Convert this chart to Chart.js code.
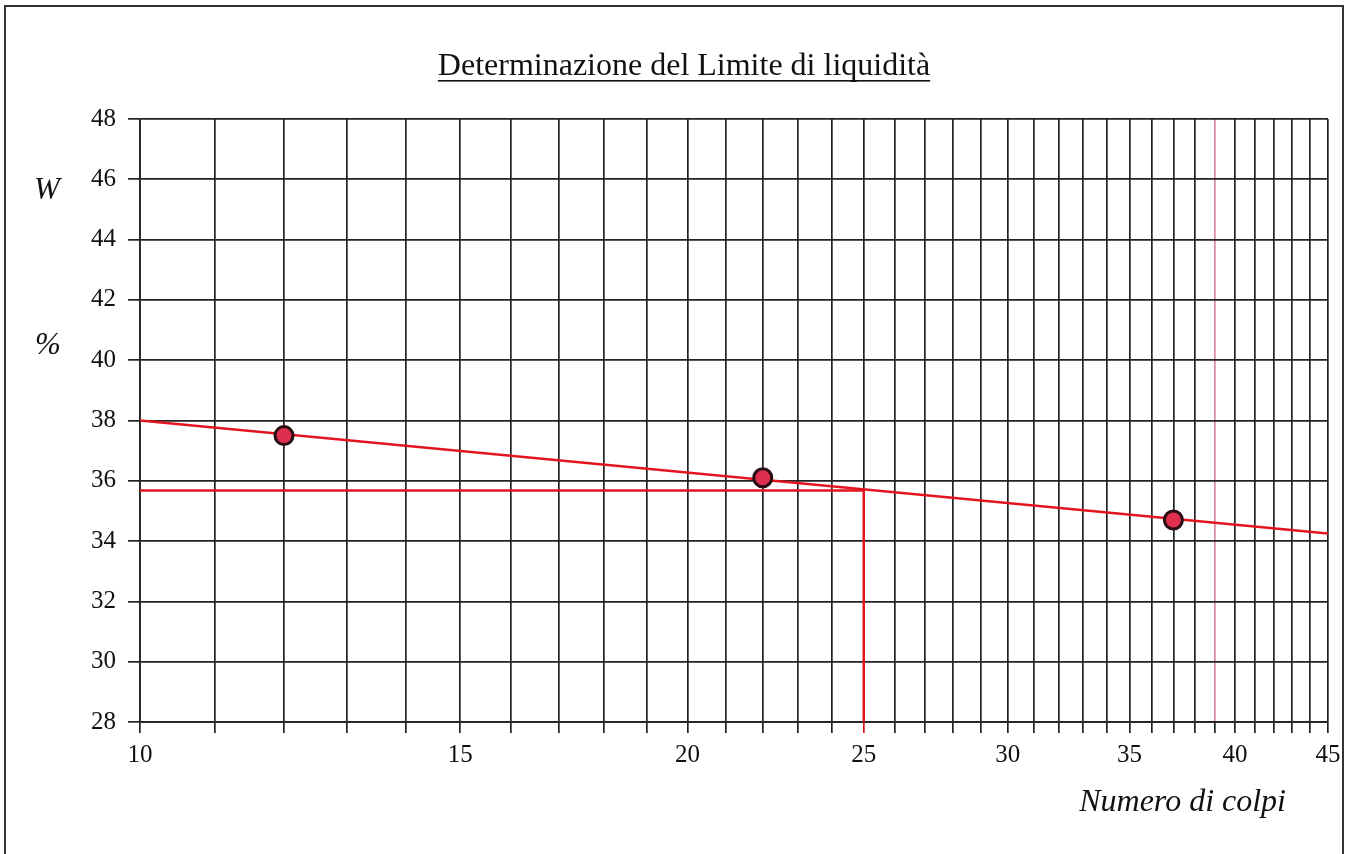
<!DOCTYPE html>
<html>
<head>
<meta charset="utf-8">
<title>Determinazione del Limite di liquidità</title>
<script src="https://cdn.jsdelivr.net/npm/chart.js@4/dist/chart.umd.min.js"></script>
<style>
  html, body { margin: 0; padding: 0; background: #fff; }
  #wrap { position: relative; width: 1348px; height: 854px; }
</style>
</head>
<body>
<div id="wrap"><canvas id="chart" width="1348" height="854"></canvas></div>
<script>
// Data
const colpi = [12, 22, 37];            // numero di colpi
const umidita = [37.5, 36.1, 34.7];    // W %
const trendX = [10, 45];               // fitted line ends
const trendY = [38.0, 34.25];
const limiteX = [10, 25, 25];          // liquid limit at 25 blows
const limiteY = [35.68, 35.68, 28];
const xGrid = [];                      // a grid line for every integer 10..45
for (let n = 10; n <= 45; n++) xGrid.push(n);
const xLabels = [10, 15, 20, 25, 30, 35, 40, 45];
const yTicks = [28, 30, 32, 34, 36, 38, 40, 42, 44, 46, 48];

const serif = '"Liberation Serif", "Times New Roman", serif';
const gridColor = '#222';
const red = '#e3141f';

const toXY = (xs, ys) => xs.map((x, i) => ({ x: x, y: ys[i] }));

// Title, axis captions and the frame around the sheet
const textPlugin = {
  id: 'sheetText',
  afterDraw(chart) {
    const ctx = chart.ctx;
    ctx.save();
    ctx.strokeStyle = '#333';
    ctx.lineWidth = 2;
    ctx.strokeRect(5, 6, 1338, 900);

    ctx.fillStyle = '#111';
    ctx.textBaseline = 'alphabetic';
    ctx.font = '32px ' + serif;
    ctx.textAlign = 'center';
    const title = 'Determinazione del Limite di liquidità';
    ctx.fillText(title, 684, 75);
    const w = ctx.measureText(title).width;
    ctx.fillRect(684 - w / 2, 80, w, 1.6);

    ctx.font = 'italic 31px ' + serif;
    ctx.textAlign = 'left';
    ctx.fillText('W', 34, 199);
    ctx.fillText('%', 35, 354);
    ctx.font = 'italic 32px ' + serif;
    ctx.textAlign = 'right';
    ctx.fillText('Numero di colpi', 1286, 811);
    ctx.restore();
  }
};

new Chart(document.getElementById('chart'), {
  type: 'scatter',
  data: {
    datasets: [
      {
        label: 'Limite',
        data: toXY(limiteX, limiteY),
        showLine: true,
        borderColor: red,
        borderWidth: 2.5,
        pointRadius: 0,
        order: 3
      },
      {
        label: 'Retta',
        data: toXY(trendX, trendY),
        showLine: true,
        borderColor: red,
        borderWidth: 2.5,
        pointRadius: 0,
        order: 2
      },
      {
        label: 'Prove',
        data: toXY(colpi, umidita),
        pointRadius: 9,
        pointBackgroundColor: '#de2f4e',
        pointBorderColor: '#2a0d12',
        pointBorderWidth: 3,
        order: 1
      }
    ]
  },
  options: {
    responsive: false,
    animation: false,
    layout: { padding: { top: 119, right: 20, left: 0, bottom: 0 } },
    plugins: {
      legend: { display: false },
      tooltip: { enabled: false }
    },
    scales: {
      x: {
        type: 'logarithmic',
        min: 10,
        max: 45,
        afterBuildTicks: scale => { scale.ticks = xGrid.map(v => ({ value: v })); },
        afterFit: scale => { scale.height = 132; },
        ticks: {
          autoSkip: false,
          maxRotation: 0,
          padding: 7,
          color: '#111',
          font: { family: serif, size: 25 },
          callback: value => xLabels.includes(value) ? String(value) : ''
        },
        grid: {
          color: ctx => ctx.tick && ctx.tick.value === 39 ? '#d98a9c' : gridColor,
          tickColor: ctx => ctx.tick && ctx.tick.value === 25 ? red : gridColor,
          lineWidth: 1.7,
          tickLength: 11
        },
        border: { color: gridColor, width: 1.7 }
      },
      y: {
        min: 28,
        max: 48,
        afterBuildTicks: scale => { scale.ticks = yTicks.map(v => ({ value: v })); },
        afterFit: scale => { scale.width = 140; },
        ticks: {
          padding: 12,
          color: '#111',
          font: { family: serif, size: 25 }
        },
        grid: {
          color: gridColor,
          lineWidth: 1.7,
          tickLength: 12
        },
        border: { color: gridColor, width: 1.7 }
      }
    }
  },
  plugins: [textPlugin]
});
</script>
</body>
</html>
